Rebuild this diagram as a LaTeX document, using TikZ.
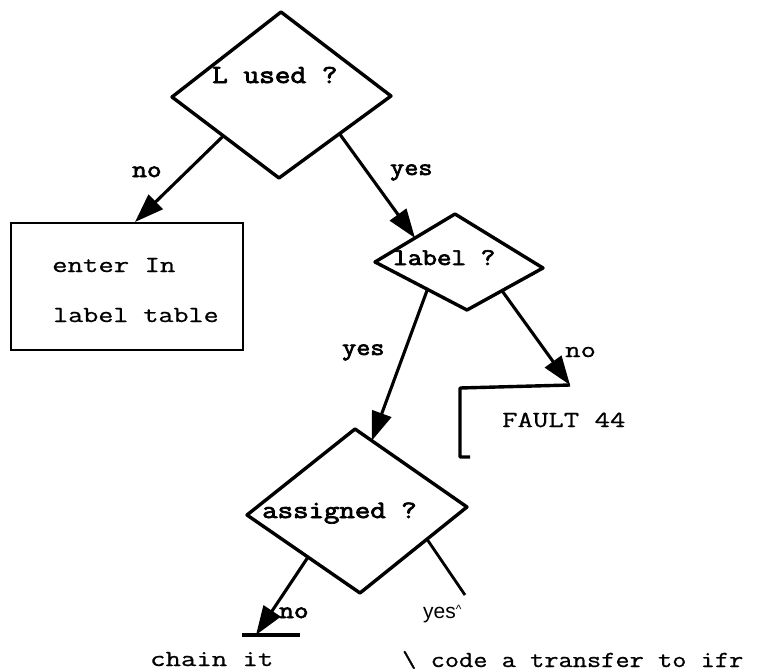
\documentclass[tikz,border=0pt]{standalone}
\usepackage{fontspec}
\usetikzlibrary{arrows.meta,calc}
\newfontfamily\courierface{Latin Modern Mono}[FakeBold=0.8]
\newfontfamily\courierbold{Latin Modern Mono}[FakeBold=2.8]
\newfontfamily\arialface{Liberation Sans}
% typewriter text widened to a Courier-like pitch
\newcommand\wide[2][1.3]{\scalebox{#1}[1]{#2}}
\begin{document}
\begin{tikzpicture}[x=1pt,y=-1pt,
  edge/.style={line width=3.4pt,line join=round},
  flow/.style={line width=3.1pt,-{Triangle[length=29pt,width=20pt]}},
  txt/.style={font=\courierface\fontsize{#1}{#1}\selectfont,inner sep=0pt,anchor=base west},
  txt/.default=23,
  btxt/.style={font=\courierbold\fontsize{#1}{#1}\selectfont,inner sep=0pt,anchor=base west},
  btxt/.default=25,
]
\useasboundingbox (0,0) rectangle (761,672);

% decision: L used ?
\coordinate (d1t) at (281,12);
\coordinate (d1l) at (172,97);
\coordinate (d1r) at (391,96);
\coordinate (d1b) at (279,178);
\draw[edge] (d1t) -- (d1r) -- (d1b) -- (d1l) -- cycle;
\node[btxt=26] (q1) at (212,83) {\wide[1.17]{L used ?}};

% box: enter In label table
\draw[line width=1.8pt] (11,223) rectangle (243,350);
\coordinate (boxtop) at (135,222);
\node[txt] (e1) at (52,272) {\wide{enter In}};
\node[txt] (e2) at (53,322) {\wide[1.27]{label table}};

% decision: label ?
\coordinate (d2t) at (455,214);
\coordinate (d2l) at (375,262);
\coordinate (d2r) at (543,268);
\coordinate (d2b) at (467,310);
\draw[edge] (d2t) -- (d2r) -- (d2b) -- (d2l) -- cycle;
\node[btxt=24] (q2) at (393,265) {\wide[1.18]{label ?}};

% decision: assigned ?
\coordinate (d3t) at (355,429);
\coordinate (d3l) at (247,515);
\coordinate (d3r) at (467,507);
\coordinate (d3b) at (360,593);
\draw[edge] (d3t) -- (d3r) -- (d3b) -- (d3l) -- cycle;
\node[btxt] (q3) at (262,518) {\wide[1.2]{assigned ?}};

% fault bracket
\coordinate (f1) at (570,385);
\coordinate (f2) at (460,388);
\coordinate (f3) at (460,457);
\coordinate (f4) at (470,457);
\draw[edge] (f1) -- (f2) -- (f3) -- (f4);
\node[txt] (fault) at (502,427) {\wide{FAULT 44}};

% chain bar
\coordinate (c1) at (242,635);
\coordinate (c2) at (300,635);
\coordinate (ctip) at (256,635);
\draw[line width=3.4pt] (c1) -- (c2);

% connectors
\draw[flow] ($(d1l)!0.48!(d1b)$) -- (boxtop);
\draw[flow] ($(d1b)!0.54!(d1r)$) -- ($(d2l)!0.5!(d2t)$);
\draw[flow] ($(d2l)!0.57!(d2b)$) -- ($(d3t)!0.15!(d3r)$);
\draw[flow] ($(d2b)!0.46!(d2r)$) -- (f1);
\draw[flow] ($(d3l)!0.54!(d3b)$) -- (ctip);
\coordinate (yend) at (465,595);
\draw[line width=2.8pt] ($(d3b)!0.626!(d3r)$) -- (yend);

% branch labels
\node[btxt=24] (n1) at (132,177) {\wide[1.19]{no}};
\node[btxt=24] (y1) at (390,175) {\wide[1.14]{yes}};
\node[btxt=24] (y2) at (342,355) {\wide[1.14]{yes}};
\node[txt] (n2) at (565,357) {\wide{no}};
\node[btxt=24] (n3) at (279,618) {\wide[1.19]{no}};
\node[inner sep=0pt,anchor=base west,font=\arialface\fontsize{21}{21}\selectfont] (y3) at (423,618)
  {yes{\fontsize{12}{12}\selectfont\raisebox{5pt}{\textasciicircum}}};

% outcomes
\node[txt] (chain) at (150,666) {\wide{chain it}};
\node[txt] (code) at (402,667) {\wide[1.2]{\textbackslash\ code a transfer to ifr}};
\end{tikzpicture}
\end{document}
